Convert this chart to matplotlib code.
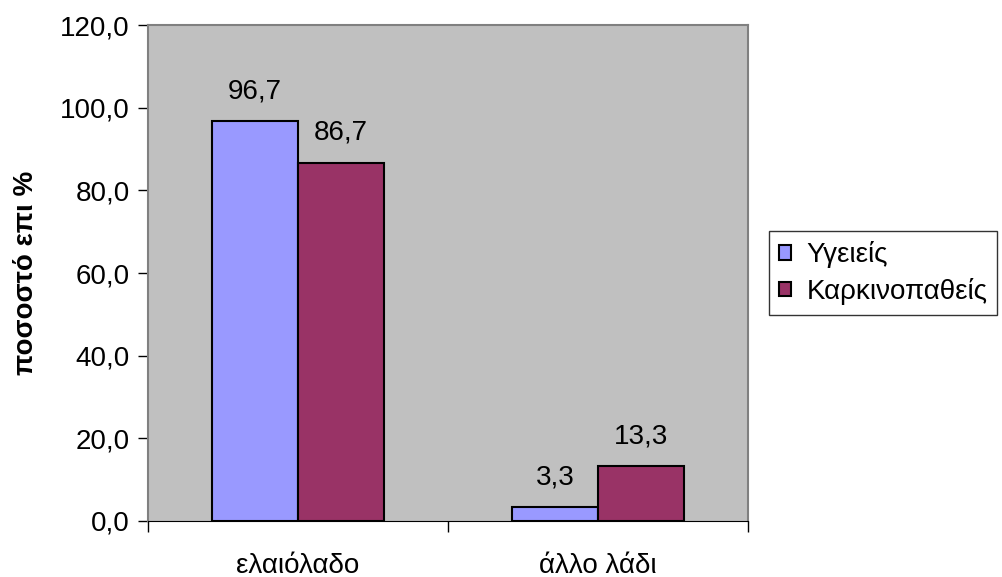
import numpy as np
import matplotlib.pyplot as plt
from matplotlib.ticker import FuncFormatter

plt.rcParams['font.family'] = ['Liberation Sans', 'DejaVu Sans']

# Datos
categorias = ['ελαιόλαδο', 'άλλο λάδι']
series = ['Υγειείς', 'Καρκινοπαθείς']
valores_ygieis = [96.7, 3.3]
valores_karkino = [86.7, 13.3]
colores = ['#9999FF', '#993366']

fig = plt.figure(figsize=(10.03, 5.77), dpi=100)
ax = fig.add_axes([148 / 1003, 1 - 521 / 577, 600 / 1003, 496 / 577])
ax.set_facecolor('#C0C0C0')

x = np.arange(len(categorias))
ancho = 0.287
b1 = ax.bar(x - ancho / 2, valores_ygieis, ancho, color=colores[0], edgecolor='black',
            linewidth=1.5, label=series[0], zorder=3)
b2 = ax.bar(x + ancho / 2, valores_karkino, ancho, color=colores[1], edgecolor='black',
            linewidth=1.5, label=series[1], zorder=3)

# etiquetas con coma decimal
fmt = lambda v: ('%.1f' % v).replace('.', ',')
for barras in (b1, b2):
    for b in barras:
        ax.annotate(fmt(b.get_height()), (b.get_x() + b.get_width() / 2, b.get_height()),
                    xytext=(0, 12), textcoords='offset points', ha='center', va='bottom',
                    fontsize=20)

ax.set_xlim(-0.5, 1.5)
ax.set_ylim(0, 120)
ax.set_yticks(np.arange(0, 121, 20))
ax.yaxis.set_major_formatter(FuncFormatter(lambda v, p: fmt(v)))
ax.set_xticks([-0.5, 0.5, 1.5], minor=False)
ax.set_xticklabels([])
ax.set_xticks(x, minor=True)
ax.set_xticklabels(categorias, minor=True)
ax.tick_params(axis='x', which='major', length=8, width=1, color='black')
ax.tick_params(axis='x', which='minor', length=0, pad=23, labelsize=20)
ax.tick_params(axis='y', length=7, width=1, labelsize=20, pad=6)

for lado in ('top', 'right', 'left'):
    ax.spines[lado].set_color('#808080')
    ax.spines[lado].set_linewidth(1.5)
ax.spines['bottom'].set_color('black')

ax.set_ylabel('ποσοστό επι %', fontsize=20, fontweight='bold', labelpad=15)

leg = ax.legend(loc='center left', bbox_to_anchor=(769 / 1003, 1 - 273 / 577),
                bbox_transform=fig.transFigure, fontsize=20, frameon=True, fancybox=False,
                handlelength=0.45, handleheight=0.45, handletextpad=0.55, borderpad=0.35,
                labelspacing=0.35, borderaxespad=0)
leg.get_frame().set_edgecolor('black')
leg.get_frame().set_linewidth(1)

plt.savefig('out.png', dpi=100)
